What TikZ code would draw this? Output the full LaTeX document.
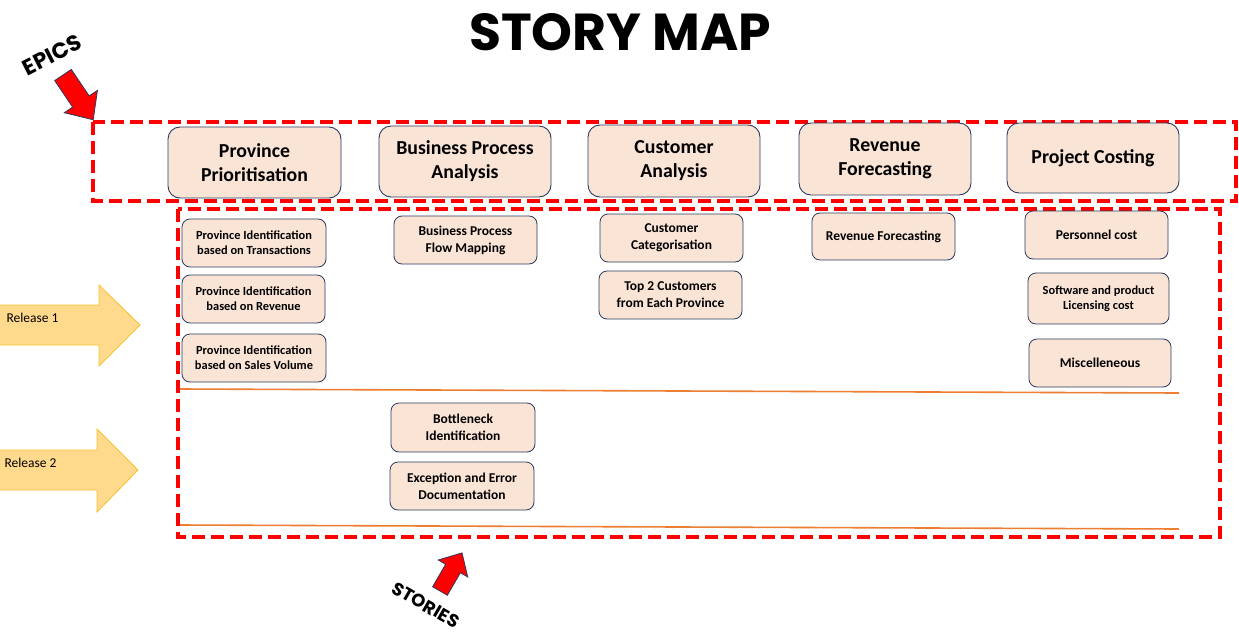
\documentclass[tikz,border=0pt]{standalone}
\usepackage{fontspec}
\setmainfont{Carlito}
\newfontfamily\titlefont{Poppins}
\definecolor{boxfill}{HTML}{FAE4D6}
\definecolor{boxline}{HTML}{2B3A5E}
\definecolor{redd}{HTML}{FF0000}
\definecolor{orline}{HTML}{ED7D31}
\definecolor{relfill}{HTML}{FFD98C}
\definecolor{relline}{HTML}{F7C12E}
\definecolor{arrline}{HTML}{2B3A5E}
\tikzset{
  epicbox/.style={draw=boxline, line width=0.9pt, fill=boxfill, rounded corners=12pt,
    align=center, inner sep=0pt, font=\fontsize{19.8}{24}\selectfont\bfseries},
  storybox/.style={draw=boxline, line width=0.8pt, fill=boxfill, rounded corners=8pt,
    align=center, inner sep=0pt, font=\fontsize{13.5}{17}\selectfont\bfseries},
  smallstory/.style={font=\fontsize{12.4}{15}\selectfont\bfseries},
  reddash/.style={draw=redd, line width=3.5pt, dash pattern=on 13pt off 6pt},
  relline/.style={draw=orline, line width=1.6pt},
  blockarrow/.style={draw=arrline, line width=0.8pt, fill=redd, line join=miter},
  relarrow/.style={draw=relline, line width=0.8pt, fill=relfill},
  reltext/.style={anchor=west, font=\fontsize{13.5}{16}\selectfont},
}
\begin{document}
\begin{tikzpicture}[x=1pt,y=-1pt]
\useasboundingbox (0,0) rectangle (1239,637);
% title
\node (title) at (620,32) {\titlefont\fontsize{52}{60}\selectfont\bfseries STORY MAP};
% dashed frames
\draw[reddash] (93,122) rectangle (1236,201);
\draw[reddash] (178,209) rectangle (1220,537);
% epics label and arrow
\node[rotate=27] (epics) at (52,55) {\titlefont\fontsize{22}{26}\selectfont\bfseries EPICS};
\draw[blockarrow, shift={(63,75)}, rotate=-56]
  (0,-10) -- (32,-10) -- (32,-20) -- (54,0) -- (32,20) -- (32,10) -- (0,10) -- cycle;
% stories label and arrow
\node[rotate=-30] (stories) at (426,605) {\titlefont\fontsize{18}{21}\selectfont\bfseries STORIES};
\draw[blockarrow, shift={(440,591)}, rotate=60]
  (0,-8.5) -- (26,-8.5) -- (26,-17) -- (44,0) -- (26,17) -- (26,8.5) -- (0,8.5) -- cycle;
% release arrows
\draw[relarrow] (0,305) -- (99,305) -- (99,285) -- (140,325) -- (99,366) -- (99,345) -- (0,345);
\node[reltext] (rel1) at (3,318) {Release 1};
\draw[relarrow] (0,450) -- (97,450) -- (97,429) -- (138,470) -- (97,512) -- (97,490) -- (0,490);
\node[reltext] (rel2) at (1,463) {Release 2};
% release lines
\coordinate (l1a) at (180,389);
\coordinate (l1b) at (1179,393);
\coordinate (l2a) at (180,525);
\coordinate (l2b) at (1179,529);
\draw[relline] (l1a) -- (l1b);
\draw[relline] (l2a) -- (l2b);
% epics
\node[epicbox, minimum width=173pt, minimum height=71pt] (e1) at (254.5,162.5) {Province\\Prioritisation};
\node[epicbox, minimum width=172pt, minimum height=71pt] (e2) at (465,161.5) {Business Process\\Analysis};
\node[epicbox, minimum width=172pt, minimum height=72pt] (e3) at (674,161) {Customer\\Analysis};
\node[epicbox, minimum width=172pt, minimum height=72pt] (e4) at (885,159) {Revenue\\Forecasting};
\node[epicbox, minimum width=172pt, minimum height=70pt] (e5) at (1093,158) {Project Costing};
% stories
\node[storybox, smallstory, minimum width=144pt, minimum height=48pt] (s1) at (254,243) {Province Identification\\based on Transactions};
\node[storybox, smallstory, minimum width=143pt, minimum height=48pt] (s2) at (253.5,299) {Province Identification\\based on Revenue};
\node[storybox, smallstory, minimum width=144pt, minimum height=48pt] (s3) at (254,358) {Province Identification\\based on Sales Volume};
\node[storybox, minimum width=143pt, minimum height=48pt] (s4) at (465.5,240) {Business Process\\Flow Mapping};
\node[storybox, minimum width=143pt, minimum height=48pt] (s5) at (671.5,238) {Customer\\Categorisation};
\node[storybox, minimum width=143pt, minimum height=48pt] (s6) at (670.5,295) {Top 2 Customers\\from Each Province};
\node[storybox, minimum width=143pt, minimum height=47pt] (s7) at (883.5,236.5) {Revenue Forecasting};
\node[storybox, minimum width=143pt, minimum height=48pt] (s8) at (1096.5,235) {Personnel cost};
\node[storybox, smallstory, minimum width=141pt, minimum height=51pt] (s9) at (1098.5,298.5) {Software and product\\Licensing cost};
\node[storybox, minimum width=142pt, minimum height=48pt] (s10) at (1100,363) {Miscelleneous};
\node[storybox, minimum width=144pt, minimum height=49pt] (s11) at (463,427.5) {Bottleneck\\Identification};
\node[storybox, minimum width=144pt, minimum height=48pt] (s12) at (462,486) {Exception and Error\\Documentation};
\end{tikzpicture}
\end{document}
